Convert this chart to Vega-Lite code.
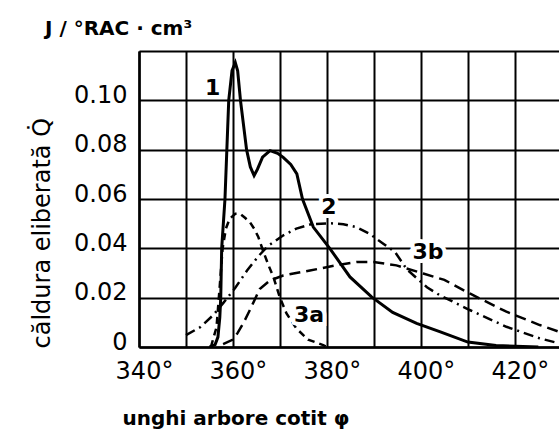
{
  "$schema": "https://vega.github.io/schema/vega-lite/v6.json",
  "autosize": {"type": "none"},
  "width": 420,
  "height": 296,
  "padding": {"left": 139, "top": 51, "right": 0, "bottom": 85},
  "background": "white",
  "config": {"view": {"stroke": null}, "font": "DejaVu Sans"},
  "title": {"text": "J / °RAC · cm³", "anchor": "start", "frame": "group", "dx": -94, "offset": -4, "baseline": "alphabetic", "fontSize": 20, "fontWeight": "bold", "font": "DejaVu Sans", "color": "black"},
  "datasets": {
    "curves": [
      {"series": "1", "x": 355.0, "y": 0},
      {"series": "1", "x": 356.2, "y": 0.001},
      {"series": "1", "x": 356.8, "y": 0.004},
      {"series": "1", "x": 357.2, "y": 0.012},
      {"series": "1", "x": 357.4, "y": 0.02},
      {"series": "1", "x": 357.6, "y": 0.04},
      {"series": "1", "x": 358.3, "y": 0.06},
      {"series": "1", "x": 358.7, "y": 0.08},
      {"series": "1", "x": 359.1, "y": 0.1},
      {"series": "1", "x": 359.8, "y": 0.112},
      {"series": "1", "x": 360.5, "y": 0.1153},
      {"series": "1", "x": 361.0, "y": 0.112},
      {"series": "1", "x": 361.6, "y": 0.1},
      {"series": "1", "x": 362.9, "y": 0.08},
      {"series": "1", "x": 363.7, "y": 0.073},
      {"series": "1", "x": 364.5, "y": 0.0695},
      {"series": "1", "x": 365.2, "y": 0.072},
      {"series": "1", "x": 366.3, "y": 0.077},
      {"series": "1", "x": 367.9, "y": 0.0796},
      {"series": "1", "x": 369.5, "y": 0.0785},
      {"series": "1", "x": 370.7, "y": 0.0769},
      {"series": "1", "x": 372.3, "y": 0.074},
      {"series": "1", "x": 373.6, "y": 0.0702},
      {"series": "1", "x": 374.8, "y": 0.06},
      {"series": "1", "x": 377.1, "y": 0.0486},
      {"series": "1", "x": 380.6, "y": 0.04},
      {"series": "1", "x": 384.9, "y": 0.0284},
      {"series": "1", "x": 389.5, "y": 0.0203},
      {"series": "1", "x": 394.0, "y": 0.014},
      {"series": "1", "x": 399.1, "y": 0.0096},
      {"series": "1", "x": 404.0, "y": 0.0062},
      {"series": "1", "x": 410.0, "y": 0.002},
      {"series": "1", "x": 416.0, "y": 0.0006},
      {"series": "1", "x": 425.0, "y": 0},
      {"series": "2", "x": 350.0, "y": 0.0048},
      {"series": "2", "x": 353.0, "y": 0.008},
      {"series": "2", "x": 355.8, "y": 0.0129},
      {"series": "2", "x": 358.0, "y": 0.018},
      {"series": "2", "x": 360.5, "y": 0.024},
      {"series": "2", "x": 363.0, "y": 0.031},
      {"series": "2", "x": 365.5, "y": 0.037},
      {"series": "2", "x": 367.5, "y": 0.041},
      {"series": "2", "x": 370.5, "y": 0.045},
      {"series": "2", "x": 373.5, "y": 0.048},
      {"series": "2", "x": 376.5, "y": 0.0497},
      {"series": "2", "x": 380.6, "y": 0.0502},
      {"series": "2", "x": 383.5, "y": 0.0498},
      {"series": "2", "x": 386.3, "y": 0.0486},
      {"series": "2", "x": 389.0, "y": 0.046},
      {"series": "2", "x": 392.0, "y": 0.0419},
      {"series": "2", "x": 394.5, "y": 0.0385},
      {"series": "2", "x": 397.0, "y": 0.0315},
      {"series": "2", "x": 401.3, "y": 0.0242},
      {"series": "2", "x": 404.0, "y": 0.021},
      {"series": "2", "x": 410.4, "y": 0.015},
      {"series": "2", "x": 418.2, "y": 0.0082},
      {"series": "2", "x": 425.3, "y": 0.0035},
      {"series": "2", "x": 429.4, "y": 0.0015},
      {"series": "3a", "x": 355.3, "y": 0},
      {"series": "3a", "x": 356.5, "y": 0.008},
      {"series": "3a", "x": 357.2, "y": 0.025},
      {"series": "3a", "x": 357.8, "y": 0.04},
      {"series": "3a", "x": 358.5, "y": 0.048},
      {"series": "3a", "x": 359.3, "y": 0.052},
      {"series": "3a", "x": 360.5, "y": 0.054},
      {"series": "3a", "x": 361.5, "y": 0.054},
      {"series": "3a", "x": 362.5, "y": 0.0525},
      {"series": "3a", "x": 363.6, "y": 0.0506},
      {"series": "3a", "x": 364.5, "y": 0.048},
      {"series": "3a", "x": 365.4, "y": 0.0446},
      {"series": "3a", "x": 366.5, "y": 0.0385},
      {"series": "3a", "x": 367.6, "y": 0.033},
      {"series": "3a", "x": 368.6, "y": 0.0284},
      {"series": "3a", "x": 370.0, "y": 0.02},
      {"series": "3a", "x": 371.4, "y": 0.0136},
      {"series": "3a", "x": 373.5, "y": 0.0075},
      {"series": "3a", "x": 376.0, "y": 0.003},
      {"series": "3a", "x": 379.2, "y": 0.0008},
      {"series": "3a", "x": 380.0, "y": 0},
      {"series": "3b", "x": 357.9, "y": 0.0012},
      {"series": "3b", "x": 360.0, "y": 0.003},
      {"series": "3b", "x": 361.0, "y": 0.0057},
      {"series": "3b", "x": 362.3, "y": 0.01},
      {"series": "3b", "x": 363.6, "y": 0.015},
      {"series": "3b", "x": 365.7, "y": 0.0235},
      {"series": "3b", "x": 367.9, "y": 0.027},
      {"series": "3b", "x": 370.7, "y": 0.029},
      {"series": "3b", "x": 376.4, "y": 0.031},
      {"series": "3b", "x": 382.1, "y": 0.0332},
      {"series": "3b", "x": 386.5, "y": 0.0345},
      {"series": "3b", "x": 389.9, "y": 0.0345},
      {"series": "3b", "x": 394.8, "y": 0.0331},
      {"series": "3b", "x": 400.5, "y": 0.0298},
      {"series": "3b", "x": 405.0, "y": 0.0272},
      {"series": "3b", "x": 410.4, "y": 0.0217},
      {"series": "3b", "x": 418.2, "y": 0.0143},
      {"series": "3b", "x": 425.3, "y": 0.0089},
      {"series": "3b", "x": 429.4, "y": 0.0062}
    ],
    "labels": [
      {"label": "1", "x": 355.7, "y": 0.1052},
      {"label": "2", "x": 380.4, "y": 0.0567},
      {"label": "3a", "x": 376.2, "y": 0.0129},
      {"label": "3b", "x": 401.5, "y": 0.0384}
    ]
  },
  "layer": [
    {
      "data": {"name": "curves"},
      "transform": [{"filter": "datum.series != '1'"}],
      "mark": {"type": "line", "color": "black", "strokeWidth": 2.5, "clip": true},
      "encoding": {
        "x": {"field": "x", "type": "quantitative",
          "scale": {"domain": [340, 429.4], "nice": false, "zero": false},
          "axis": {"values": [340, 350, 360, 370, 380, 390, 400, 410, 420],
            "labelExpr": "datum.value % 20 == 0 ? datum.value + '°' : ''",
            "ticks": false, "labelPadding": 12, "labelOffset": 5,
            "labelFontSize": 24, "labelFont": "DejaVu Sans", "labelColor": "black",
            "labelAlign": "center", "labelBaseline": "top",
            "grid": true, "gridColor": "black", "gridWidth": 2, "gridOpacity": 1,
            "domainColor": "black", "domainWidth": 2.5,
            "title": "unghi arbore cotit φ", "titleFont": "DejaVu Sans", "titleFontSize": 20, "titleFontWeight": "bold", "titleColor": "black",
            "titleX": -17, "titleY": 77, "titleAlign": "left", "titleBaseline": "alphabetic"}},
        "y": {"field": "y", "type": "quantitative",
          "scale": {"domain": [0, 0.12], "nice": false},
          "axis": {"values": [0, 0.02, 0.04, 0.06, 0.08, 0.1, 0.12],
            "labelExpr": "datum.value == 0 ? '0' : datum.value > 0.11 ? '' : format(datum.value, '.2f')",
            "ticks": false, "labelPadding": 12, "labelOffset": -5,
            "labelFontSize": 24, "labelFont": "DejaVu Sans", "labelColor": "black",
            "labelBaseline": "middle",
            "grid": true, "gridColor": "black", "gridWidth": 2, "gridOpacity": 1,
            "domainColor": "black", "domainWidth": 2.5,
            "title": "căldura eliberată Q̇", "titleFont": "DejaVu Sans", "titleFontSize": 24, "titleFontWeight": "normal", "titleColor": "black",
            "titleAngle": -90, "titleX": -97, "titleY": 297, "titleAlign": "left", "titleBaseline": "middle"}},
        "strokeDash": {"field": "series", "type": "nominal",
          "scale": {"domain": ["2", "3a", "3b"], "range": [[10, 5, 2, 5], [7, 5], [11, 6]]},
          "legend": null}
      }
    },
    {
      "data": {"name": "curves"},
      "transform": [{"filter": "datum.series == '1'"}],
      "mark": {"type": "line", "color": "black", "strokeWidth": 3, "clip": true},
      "encoding": {
        "x": {"field": "x", "type": "quantitative"},
        "y": {"field": "y", "type": "quantitative"}
      }
    },
    {
      "data": {"name": "labels"},
      "mark": {"type": "text", "font": "DejaVu Sans", "fontWeight": "bold", "fontSize": 22, "stroke": "white", "strokeWidth": 8, "fill": "white", "align": "center", "baseline": "middle"},
      "encoding": {
        "x": {"field": "x", "type": "quantitative"},
        "y": {"field": "y", "type": "quantitative"},
        "text": {"field": "label"}
      }
    },
    {
      "data": {"name": "labels"},
      "mark": {"type": "text", "font": "DejaVu Sans", "fontWeight": "bold", "fontSize": 22, "fill": "black", "align": "center", "baseline": "middle"},
      "encoding": {
        "x": {"field": "x", "type": "quantitative"},
        "y": {"field": "y", "type": "quantitative"},
        "text": {"field": "label"}
      }
    }
  ]
}
